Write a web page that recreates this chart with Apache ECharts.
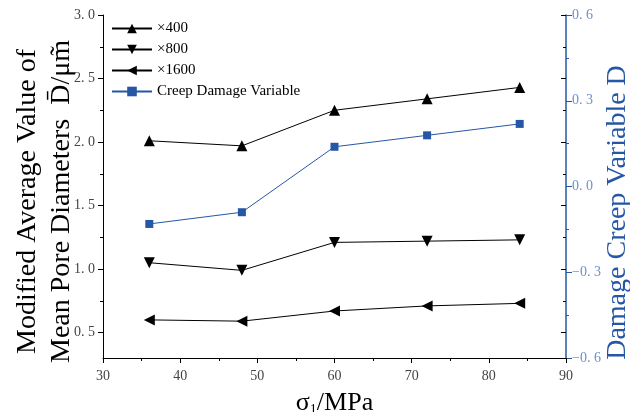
<!DOCTYPE html>
<html>
<head>
<meta charset="utf-8">
<script src="https://cdn.jsdelivr.net/npm/echarts@6/dist/echarts.min.js"></script>
<style>
    html,body{margin:0;padding:0;background:#fff;}
    #chart{width:630px;height:412px;}
</style>
</head>
<body>
<div id="chart"></div>
<script>
// stress levels (MPa)
const stress = [36, 48, 60, 72, 84]

// mean pore diameter, per magnification
const d400 = [2.01, 1.97, 2.25, 2.34, 2.43]
const d800 = [1.05, 0.99, 1.21, 1.22, 1.23]
const d1600 = [0.60, 0.59, 0.67, 0.71, 0.73]

// creep damage variable (right axis)
const creepDamage = [-0.131, -0.09, 0.139, 0.179, 0.219]

// left axis ticks
const leftMajor = [0.5, 1.0, 1.5, 2.0, 2.5, 3.0]
const leftMinor = [0.75, 1.25, 1.75, 2.25, 2.75]

const serif = "Liberation Serif"
const blue = "#2557a6"

const pair = arr => stress.map((x,i)=>[x,arr[i]])
// labels are written "3. 0" in the original
const fmt = v => (v < -1e-9 ? "\u2212" : "") + Math.abs(v).toFixed(1).replace(".", ". ")

const chartDom = document.getElementById("chart")
const myChart = echarts.init(chartDom)

// a left-scale axis; used several times to draw major/minor and mirrored ticks
const leftScale = (pos, ticks, len, inside, extra) => Object.assign({
    type: "value",
    position: pos,
    min: 0.3,
    max: 3.0,
    splitLine: {show: false},
    axisLine: {show: false, onZero: false},
    axisLabel: {show: false},
    axisTick: {
        show: true,
        inside: inside,
        length: len,
        customValues: ticks,
        lineStyle: {color: "#000", width: 1}
    }
}, extra || {})

const lineSeries = (name, data, rotate) => ({
    name: name,
    type: "line",
    yAxisIndex: 0,
    data: pair(data),
    symbol: "triangle",
    symbolSize: 11,
    symbolRotate: rotate,
    lineStyle: {color: "#000", width: 1},
    itemStyle: {color: "#000"},
    z: 3
})

const option = {
    animation: false,
    grid: {left: 103, right: 64, top: 15, bottom: 54, outerBoundsMode: "none", containLabel: false},
    legend: {
        orient: "vertical",
        left: 106,
        top: 16,
        itemWidth: 40,
        itemHeight: 12,
        itemGap: 6,
        textStyle: {fontFamily: serif, fontSize: 15, color: "#000"},
        data: ["×400", "×800", "×1600", "Creep Damage Variable"]
    },
    xAxis: {
        type: "value",
        min: 30,
        max: 90,
        interval: 10,
        splitLine: {show: false},
        axisLine: {onZero: false, lineStyle: {color: "#000", width: 1}},
        axisTick: {length: 5, lineStyle: {color: "#000"}},
        minorTick: {show: true, splitNumber: 2, length: 3, lineStyle: {color: "#000"}},
        axisLabel: {fontFamily: serif, fontSize: 14, color: "#444", margin: 11},
        name: "{a|σ}{s|1}{a|/MPa}",
        nameLocation: "middle",
        nameGap: 32,
        nameMoveOverlap: false,
        nameTextStyle: {
            rich: {
                a: {fontFamily: serif, fontSize: 26, color: "#000"},
                s: {fontFamily: serif, fontSize: 14, color: "#000", verticalAlign: "bottom", padding: [13,0,0,0]}
            }
        }
    },
    yAxis: [
        leftScale("left", leftMajor, 5, false, {
            axisLine: {show: true, onZero: false, lineStyle: {color: "#000", width: 1}},
            axisLabel: {
                show: true,
                customValues: leftMajor,
                formatter: fmt,
                fontFamily: serif,
                fontSize: 14,
                color: "#444",
                margin: 8
            },
            name: "Modified Average Value of\nMean Pore Diameters  D\u0304/\u03bcm\u0303",
            nameLocation: "middle",
            nameRotate: 90,
            nameGap: 24,
            nameMoveOverlap: false,
            nameTextStyle: {fontFamily: serif, fontSize: 28, lineHeight: 34, color: "#000", padding: [0, 30, 0, 0]}
        }),
        leftScale("left", leftMinor, 3, false),
        leftScale("right", leftMajor, 5, true),
        leftScale("right", leftMinor, 3, true),
        {
            type: "value",
            position: "right",
            min: -0.6,
            max: 0.6,
            interval: 0.3,
            splitLine: {show: false},
            axisLine: {show: true, onZero: false, lineStyle: {color: blue, width: 1.5}},
            axisTick: {show: true, length: 6, lineStyle: {color: blue}},
            minorTick: {show: true, splitNumber: 2, length: 3, lineStyle: {color: blue}},
            axisLabel: {
                formatter: fmt,
                fontFamily: serif,
                fontSize: 14,
                color: "#6a91cc",
                margin: 6
            },
            name: "Damage Creep Variable D",
            nameLocation: "middle",
            nameRotate: 90,
            nameGap: 38,
            nameMoveOverlap: false,
            nameTextStyle: {fontFamily: serif, fontSize: 28, color: blue, padding: [0, 52, 0, 0]}
        }
    ],
    series: [
        lineSeries("×400", d400, 0),
        lineSeries("×800", d800, 180),
        lineSeries("×1600", d1600, 90),
        {
            name: "Creep Damage Variable",
            type: "line",
            yAxisIndex: 4,
            data: pair(creepDamage),
            symbol: "rect",
            symbolSize: 8,
            lineStyle: {color: blue, width: 1},
            itemStyle: {color: blue},
            z: 3
        }
    ]
}

myChart.setOption(option)
</script>
</body>
</html>
